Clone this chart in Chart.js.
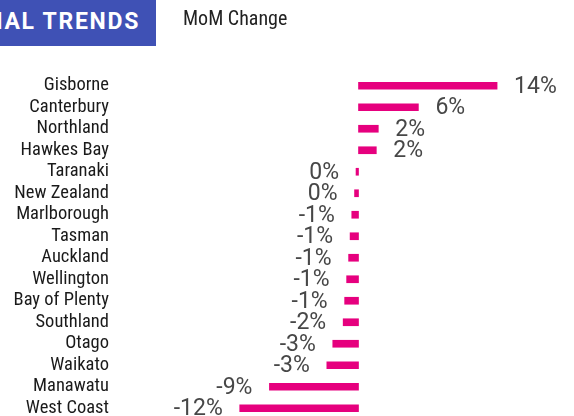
<!DOCTYPE html>
<html>
<head>
<meta charset="utf-8">
<script src="https://cdn.jsdelivr.net/npm/chart.js@4.4.1/dist/chart.umd.min.js"></script>
<style>
html,body{margin:0;padding:0;width:574px;height:416px;overflow:hidden;background:#fff;}
#wrap{position:absolute;left:0;top:0;width:574px;height:420px;}
#hdr{position:absolute;left:0;top:0;width:156px;height:46px;background:#3F51B5;overflow:hidden;}
#hdr span{position:absolute;right:16px;top:8px;white-space:nowrap;color:#fff;font:bold 23px Roboto, sans-serif;letter-spacing:1.7px;}
#sub{position:absolute;left:183px;top:6px;white-space:nowrap;color:#222;font:20px Roboto, sans-serif;font-stretch:condensed;}
</style>
</head>
<body>
<div id="wrap"><canvas id="c" width="574" height="420"></canvas></div>
<div id="hdr"><span>REGIONAL TRENDS</span></div>
<div id="sub">MoM Change</div>
<script>
const regions = ["Gisborne","Canterbury","Northland","Hawkes Bay","Taranaki","New Zealand","Marlborough","Tasman","Auckland","Wellington","Bay of Plenty","Southland","Otago","Waikato","Manawatu","West Coast"];
const momChange = [14.0, 6.05, 2.0, 1.8, -0.25, -0.4, -0.68, -0.85, -1.0, -1.2, -1.4, -1.55, -2.6, -3.2, -9.0, -12.0];

const valueLabels = {
  id: 'valueLabels',
  afterDatasetsDraw(chart) {
    const ctx = chart.ctx;
    const meta = chart.getDatasetMeta(0);
    ctx.save();
    ctx.font = '23px Roboto, sans-serif';
    ctx.fillStyle = '#474747';
    ctx.textBaseline = 'middle';
    meta.data.forEach((bar, i) => {
      const v = momChange[i];
      const txt = `${Math.round(v)}%`;
      if (v >= 0) { ctx.textAlign = 'left'; ctx.fillText(txt, bar.x + 17, bar.y + 1); }
      else { ctx.textAlign = 'right'; ctx.fillText(txt, bar.x - 17, bar.y + 1); }
    });
    ctx.restore();
  }
};

new Chart(document.getElementById('c'), {
  type: 'bar',
  data: {
    labels: regions,
    datasets: [{
      data: momChange,
      backgroundColor: '#E6007E',
      borderWidth: 0,
      barThickness: 7
    }]
  },
  options: {
    indexAxis: 'y',
    responsive: false,
    animation: false,
    layout: { padding: { top: 75, bottom: 1, left: 0, right: 0 } },
    plugins: { legend: { display: false }, tooltip: { enabled: false } },
    scales: {
      x: { display: false, min: -24.6, max: 21.77 },
      y: {
        grid: { display: false, drawTicks: false },
        border: { display: false },
        ticks: { autoSkip: false, color: '#1a1a1a', padding: 6, font: { family: 'Roboto', size: 18.5, weight: '400 condensed' } },
        afterFit(axis) { axis.width = 115; axis.paddingTop = 0; axis.paddingBottom = 0; }
      }
    }
  },
  plugins: [valueLabels]
});
</script>
</body>
</html>
